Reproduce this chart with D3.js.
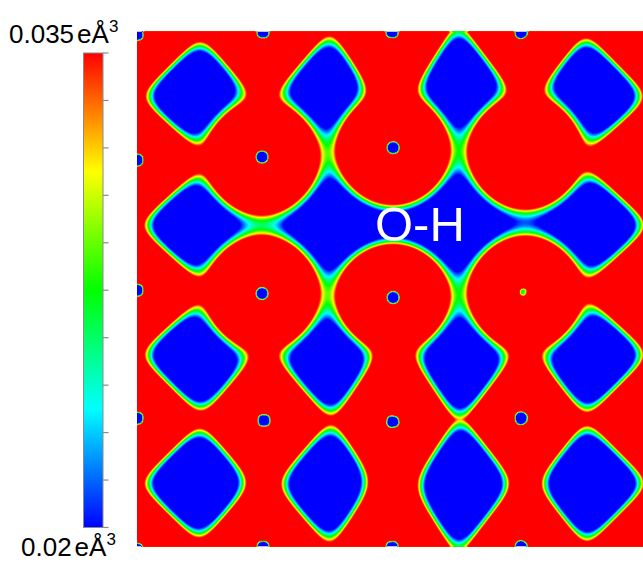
<!DOCTYPE html>
<html>
<head>
<meta charset="utf-8">
<script src="https://cdn.jsdelivr.net/npm/d3@7"></script>
<style>
  html, body { margin: 0; padding: 0; background: #ffffff; overflow: hidden; }
  text { font-family: "Liberation Sans", Arial, Helvetica, sans-serif; }
</style>
</head>
<body>
<svg id="chart" width="643" height="563"></svg>
<script>
// ---- colour bar: charge density in e/Å^3 ----
const colorStops = [0.02, 0.02375, 0.0275, 0.03125, 0.035];
const colorNames = ["#0000ff", "#00ffff", "#00ff00", "#ffff00", "#ff0000"];
const tickValues = [0.02, 0.0215, 0.023, 0.0245, 0.026, 0.0275, 0.029, 0.0305, 0.032, 0.0335, 0.035];
const rangeLabels = ["0.035", "0.02"];
const unitLabel = "eÅ";
const bondLabel = "O-H";

// ---- density lobes in the slice (fractional coordinates of a 4 x 4 cell) ----
const siteU     = [0.00, 0.98, 1.98, 3.02, 0.00, 0.97, 1.99, 3.02, 0.00, 0.97, 1.99, 3.02, 0.00, 0.99, 2.00, 3.02];
const siteV     = [0.01, 0.00, 0.00, 0.00, 1.00, 0.98, 0.92, 0.94, 2.01, 2.03, 2.06, 2.03, 3.01, 3.02, 3.02, 3.01];
const siteRx    = [0.49, 0.49, 0.449, 0.449, 0.52, 0.45, 0.443, 0.45, 0.52, 0.45, 0.443, 0.45, 0.49, 0.49, 0.457, 0.457];
const siteRy    = [0.49, 0.552, 0.649, 0.55, 0.49, 0.45, 0.44, 0.45, 0.49, 0.45, 0.42, 0.45, 0.49, 0.552, 0.649, 0.565];
const siteShape = [1.1, 1.1, 1.1, 1.1, 1.1, 2, 2, 2, 1.1, 2, 2, 2, 1.1, 1.1, 1.1, 1.1];

// ---- small depletions at the nuclei ----
const dotU     = [0.00, 0.98, 1.983, 2.994, 0.00, 0.972, 1.991, 0.00, 0.972, 1.991, 3.009, 0.00, 0.988, 1.991, 2.994];
const dotV     = [0.02, 0.004, 0.004, 0.004, 0.999, 0.976, 0.906, 2.01, 2.034, 2.065, 2.026, 3.005, 3.021, 3.029, 3.005];
const dotDepth = [5.5, 5.5, 5.5, 5.5, 5.5, 5.5, 5.5, 5.5, 5.5, 5.5, 4.4, 5.5, 5.5, 5.5, 5.5];
const dotSize  = [0.09, 0.09, 0.09, 0.09, 0.09, 0.09, 0.09, 0.09, 0.09, 0.09, 0.1, 0.09, 0.09, 0.09, 0.09];

const cells = 4;            // cells along each side of the slice
const edgeDensity = 0.0275; // density on a lobe's outline
const falloff = 4.5;        // exponential decay of a lobe

const W = 643, H = 563;
const svg = d3.select("#chart");

// map area
const sx = d3.scaleLinear().domain([0, cells]).range([137, 651.5]);
const sy = d3.scaleLinear().domain([0, cells]).range([31.5, 546.5]);
const color = d3.scaleLinear().domain(colorStops).range(colorNames).clamp(true);

// periodic images of the lobes and dots
const lobes = [];
siteU.forEach((u, k) => {
  for (let i = -1; i <= 1; i++) for (let j = -1; j <= 1; j++) {
    const cu = u + i * cells, cv = siteV[k] + j * cells;
    if (cu < -1.2 || cu > cells + 1.2 || cv < -1.2 || cv > cells + 1.2) continue;
    lobes.push({u: cu, v: cv, rx: siteRx[k], ry: siteRy[k], p: siteShape[k]});
  }
});
const dips = [];
dotU.forEach((u, k) => {
  for (let i = -1; i <= 1; i++) for (let j = -1; j <= 1; j++) {
    const cu = u + i * cells, cv = dotV[k] + j * cells;
    if (cu < -0.5 || cu > cells + 0.5 || cv < -0.5 || cv > cells + 0.5) continue;
    dips.push({u: cu, v: cv, d: dotDepth[k], s: dotSize[k]});
  }
});

function density(u, v) {
  let rho = 0;
  for (const L of lobes) {
    const du = Math.abs(u - L.u) / L.rx, dv = Math.abs(v - L.v) / L.ry;
    if (du > 3 || dv > 3) continue;
    const n = Math.pow(Math.pow(du, L.p) + Math.pow(dv, L.p), 1 / L.p);
    rho += edgeDensity * Math.exp(falloff * (1 - n));
  }
  let cut = 0;
  for (const D of dips) {
    const du = u - D.u, dv = v - D.v;
    const r2 = (du * du + dv * dv) / (D.s * D.s);
    if (r2 < 16) cut += D.d * Math.exp(-r2);
  }
  return rho * Math.exp(-cut);
}

// sample the slice over the visible part of the map
const step = 1.5;
const x0 = sx(0), y0 = sy(0);
const x1 = Math.min(W, sx(cells)), y1 = sy(cells);
const nx = Math.ceil((x1 - x0) / step), ny = Math.ceil((y1 - y0) / step);
const values = new Float64Array(nx * ny);
for (let j = 0; j < ny; j++) {
  const v = sy.invert(y0 + (j + 0.5) * step);
  for (let i = 0; i < nx; i++) {
    const u = sx.invert(x0 + (i + 0.5) * step);
    values[j * nx + i] = density(u, v);
  }
}

const levels = d3.range(0.02, 0.035 + 1e-9, 0.00025);
const bands = d3.contours().size([nx, ny]).thresholds(levels)(values);

const gx = d3.scaleLinear().domain([0, nx]).range([x0, x0 + nx * step]);
const gy = d3.scaleLinear().domain([0, ny]).range([y0, y0 + ny * step]);
const path = d3.geoPath(d3.geoTransform({
  point(x, y) { this.stream.point(gx(x), gy(y)); }
}));

svg.append("clipPath").attr("id", "mapclip")
  .append("rect").attr("x", x0).attr("y", y0).attr("width", x1 - x0).attr("height", y1 - y0);

const map = svg.append("g").attr("clip-path", "url(#mapclip)");
map.append("rect")
  .attr("x", x0).attr("y", y0).attr("width", x1 - x0).attr("height", y1 - y0)
  .attr("fill", color(0.02));
map.selectAll("path.band").data(bands).join("path")
  .attr("class", "band")
  .attr("d", path)
  .attr("fill", d => color(d.value))
  .attr("stroke", d => color(d.value))
  .attr("stroke-width", 0.3);

// bond label
svg.append("text")
  .attr("x", 375).attr("y", 241)
  .attr("font-size", 49)
  .attr("fill", "#ffffff")
  .text(bondLabel);

// ---- colour bar ----
const cbX = 83.5, cbW = 19.5;
const cy = d3.scaleLinear().domain([0.02, 0.035]).range([527.5, 53]);
const grad = svg.append("defs").append("linearGradient")
  .attr("id", "cbgrad").attr("x1", 0).attr("y1", 1).attr("x2", 0).attr("y2", 0);
grad.selectAll("stop").data(d3.range(0, 1.0001, 0.05)).join("stop")
  .attr("offset", d => d)
  .attr("stop-color", d => color(0.02 + d * 0.015));
svg.append("rect")
  .attr("x", cbX).attr("y", cy(0.035)).attr("width", cbW).attr("height", cy(0.02) - cy(0.035))
  .attr("fill", "url(#cbgrad)")
  .attr("stroke", "#8a8a8a").attr("stroke-width", 1);
svg.selectAll("line.tick").data(tickValues).join("line")
  .attr("class", "tick")
  .attr("x1", cbX + cbW).attr("x2", cbX + cbW + 5.5)
  .attr("y1", d => cy(d)).attr("y2", d => cy(d))
  .attr("stroke", "#8a8a8a").attr("stroke-width", 1.2);

function rangeLabel(x, y, num) {
  const t = svg.append("text").attr("x", x).attr("y", y).attr("font-size", 26).attr("fill", "#000");
  t.append("tspan").text(num);
  t.append("tspan").attr("dx", 3).text(unitLabel);
  t.append("tspan").attr("font-size", 17).attr("dy", -11).text("3");
}
rangeLabel(9, 43, rangeLabels[0]);
rangeLabel(21, 556, rangeLabels[1]);
</script>
</body>
</html>
